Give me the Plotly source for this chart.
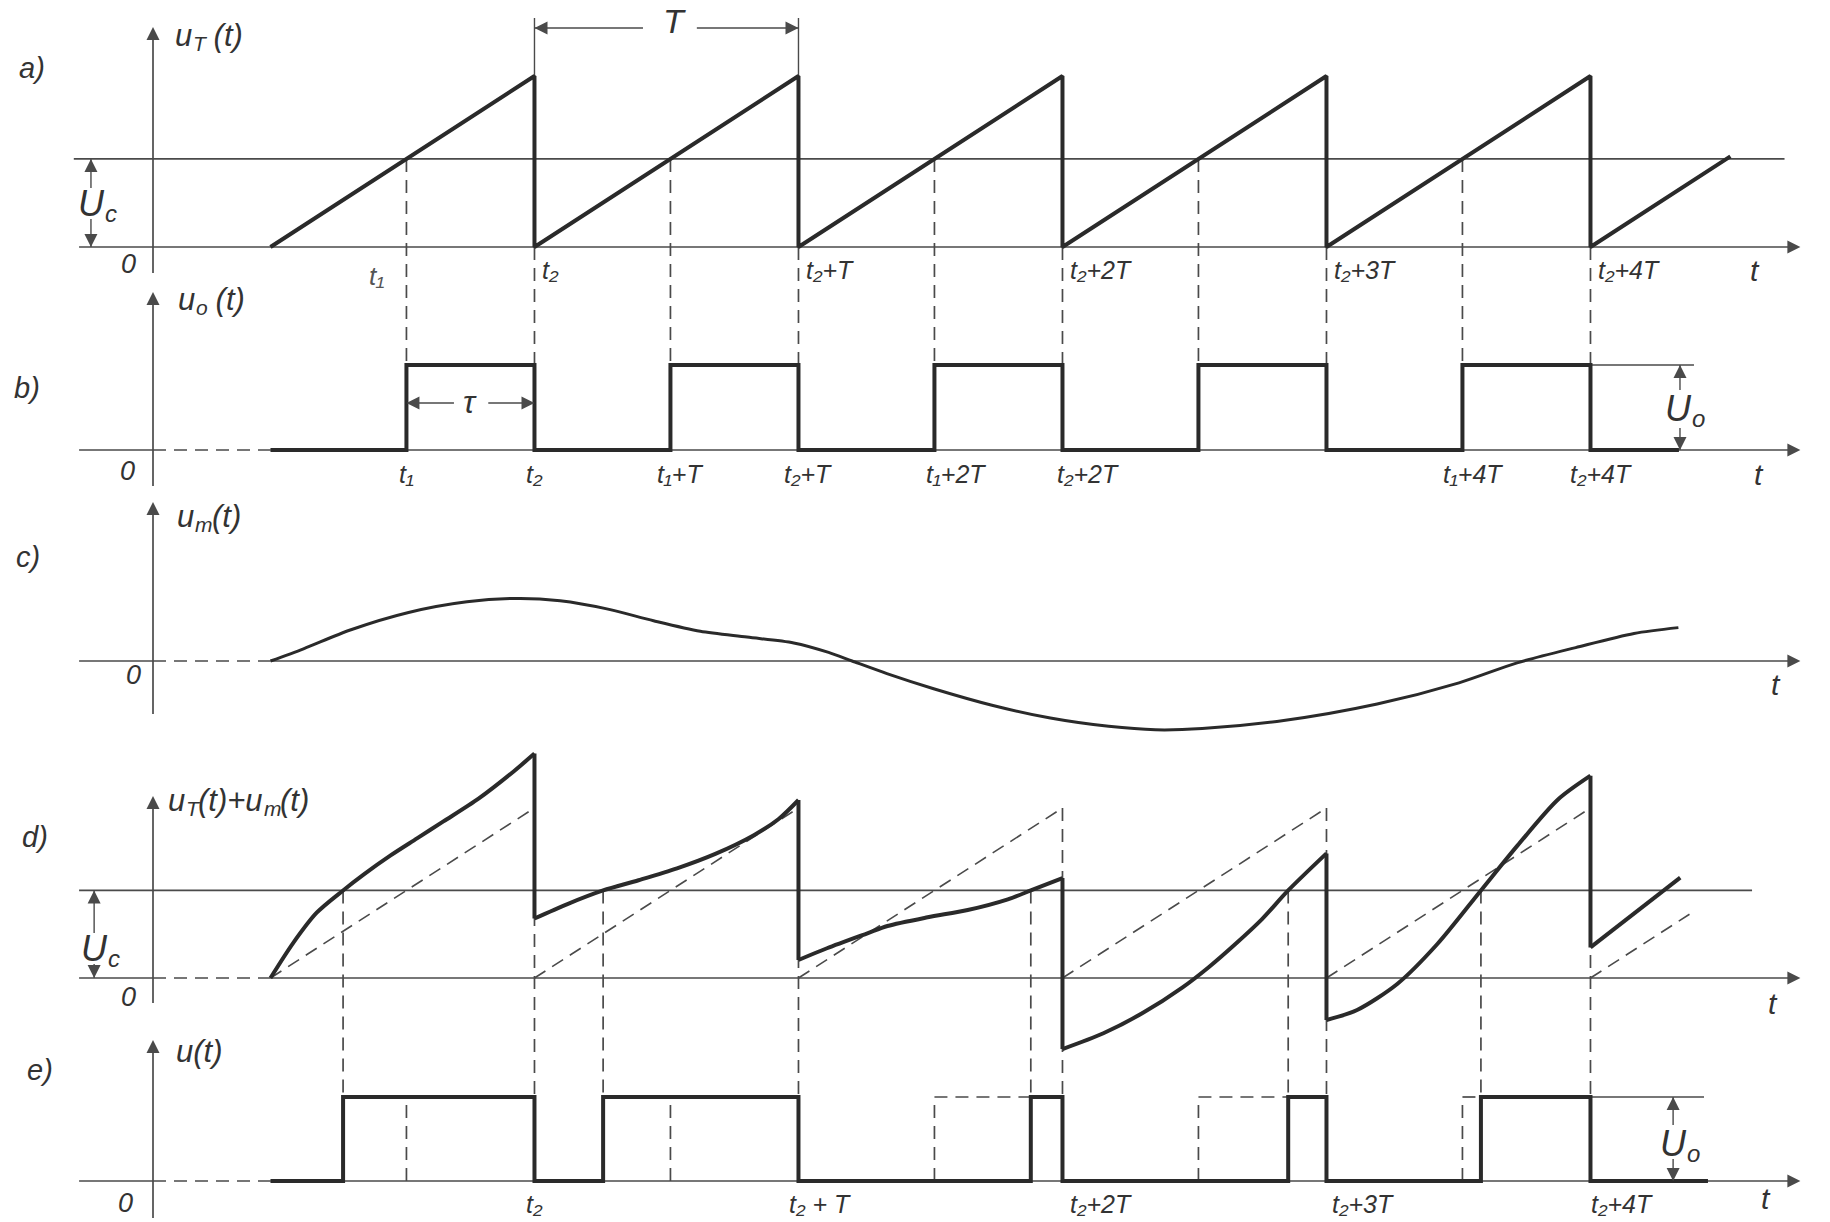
import plotly.graph_objects as go

# ---------------- data (time in units of the period T) ----------------
sweep_start = 0.445
t2_times = [1.445, 2.445, 3.445, 4.445, 5.445]      # t2 + kT  (sawtooth resets)
t1_times = [0.96, 1.96, 2.96, 3.96, 4.96]           # t1 + kT  (u_T crosses Uc)
Uc = 0.515
Uo = 1.0

# a) sawtooth u_T(t)
saw_t = [0.445, 1.445, 1.445, 2.445, 2.445, 3.445, 3.445, 4.445, 4.445, 5.445, 5.445, 5.975]
saw_v = [0.0, 1.0, 0.0, 1.0, 0.0, 1.0, 0.0, 1.0, 0.0, 1.0, 0.0, 0.53]

# b) pulse train u_o(t)
b_on = [0.96, 1.96, 2.96, 3.96, 4.96]
b_off = [1.445, 2.445, 3.445, 4.445, 5.445]
b_end = 5.78

# c) modulating signal u_m(t)
um_t = [0.445, 0.57, 0.747, 0.968, 1.189, 1.388, 1.542, 1.719, 1.896, 2.073, 2.25, 2.427,
        2.559, 2.648, 2.78, 2.957, 3.178, 3.399, 3.62, 3.797, 3.974, 4.283, 4.637, 4.947,
        5.167, 5.389, 5.61, 5.778]
um_v = [0.0, 0.071, 0.18, 0.282, 0.344, 0.364, 0.35, 0.303, 0.234, 0.173, 0.139, 0.105,
        0.05, 0.0, -0.073, -0.161, -0.257, -0.332, -0.38, -0.4, -0.393, -0.346, -0.25, -0.127,
        -0.011, 0.078, 0.16, 0.194]

# d) u_T(t)+u_m(t), one list per sweep
sum_t = [
    [0.445, 0.53, 0.62, 0.72, 0.80, 0.90, 1.0, 1.1, 1.233, 1.366, 1.445],
    [1.445, 1.57, 1.705, 1.839, 1.985, 2.13, 2.276, 2.37, 2.445],
    [2.445, 2.553, 2.706, 2.782, 2.934, 3.086, 3.238, 3.325, 3.445],
    [3.445, 3.6, 3.75, 3.9, 4.0, 4.1, 4.2, 4.30, 4.445],
    [4.445, 4.561, 4.713, 4.865, 5.03, 5.169, 5.322, 5.445],
    [5.445, 5.785],
]
sum_v = [
    [0.0, 0.204, 0.384, 0.515, 0.611, 0.721, 0.821, 0.921, 1.055, 1.215, 1.32],
    [0.35, 0.435, 0.515, 0.575, 0.645, 0.73, 0.84, 0.935, 1.047],
    [0.106, 0.175, 0.263, 0.306, 0.357, 0.4, 0.463, 0.515, 0.588],
    [-0.418, -0.325, -0.205, -0.055, 0.065, 0.2, 0.345, 0.515, 0.733],
    [-0.247, -0.188, -0.035, 0.2, 0.515, 0.78, 1.05, 1.19],
    [0.18, 0.59],
]
# dashed reference sawtooth in d)
ref_t = [[0.445, 1.445], [1.445, 2.445], [2.445, 3.445], [3.445, 4.445], [4.445, 5.445], [5.445, 5.82]]
ref_v = [[0.0, 1.0], [0.0, 1.0], [0.0, 1.0], [0.0, 1.0], [0.0, 1.0], [0.0, 0.375]]

# e) modulated pulse train u(t)
e_on = [0.72, 1.705, 3.325, 4.30, 5.03]
e_off = [1.445, 2.445, 3.445, 4.445, 5.445]
e_end = 5.89

# tick labels
a_labels = ["t₂", "t₂+T", "t₂+2T", "t₂+3T", "t₂+4T"]
b_labels_on = ["t₁", "t₁+T", "t₁+2T", None, "t₁+4T"]
b_labels_off = ["t₂", "t₂+T", "t₂+2T", None, "t₂+4T"]
e_labels = ["t₂", "t₂ + T", "t₂+2T", "t₂+3T", "t₂+4T"]

# axis titles as (text, subscript) pieces
title_a = [("u", ""), ("T", "sub"), (" (t)", "")]
title_b = [("u", ""), ("o", "sub"), (" (t)", "")]
title_c = [("u", ""), ("m", "sub"), ("(t)", "")]
title_d = [("u", ""), ("T", "sub"), ("(t)+u", ""), ("m", "sub"), ("(t)", "")]
title_e = [("u(t)", "")]
label_Uc = [("U", ""), ("c", "sub")]
label_Uo = [("U", ""), ("o", "sub")]

# ---------------- layout of the drawing ----------------
W, H = 1830, 1222
X0PX, TPX = 153.0, 264.0
XMIN, XMAX = -X0PX / TPX, (W - X0PX) / TPX
PANEL = {'a': (247, 171), 'b': (450, 85), 'c': (661, 172), 'd': (978, 170), 'e': (1181, 84)}
AX_TOP = {'a': 27, 'b': 292, 'c': 502, 'd': 796, 'e': 1040}
AX_BOT = {'a': 273, 'b': 486, 'c': 714, 'd': 1003, 'e': 1218}
LEFT, TIP = -0.28, 6.24

INK = "#2a2a2a"
THIN = "#4a4a4a"
DASH = "13px,8px"
FONT = "Liberation Sans, DejaVu Sans"
# Arial / Liberation Sans advance widths (em)
ADV = {'u': 0.556, 'T': 0.611, '(': 0.333, 't': 0.278, ')': 0.333, '+': 0.584,
       'm': 0.833, 'U': 0.722, 'c': 0.5, 'o': 0.556, ' ': 0.278}


def Y(p, v):
    base, scale = PANEL[p]
    return base - v * scale


def px2t(px):
    return (px - X0PX) / TPX


fig = go.Figure()


def line(xs, ys, width=1.7, dash=None, color=THIN, shape="linear"):
    fig.add_trace(go.Scatter(x=xs, y=ys, mode="lines",
                             line=dict(color=color, width=width, dash=dash, shape=shape,
                                       smoothing=0.8 if shape == "spline" else None),
                             hoverinfo="skip", showlegend=False))


annos = []
heads_x, heads_y, heads_s = [], [], []


def text(x, y, s, size=24, xanchor="center", color="#333333"):
    annos.append(dict(x=x, y=y, xref="x", yref="y", text=s, showarrow=False,
                      xanchor=xanchor, yanchor="middle",
                      font=dict(family=FONT, size=size, color=color, style="italic")))


def rich(x_px, y, pieces, size, anchor="left"):
    sub_size = round(size * 0.68)
    widths = [sum(ADV[ch] for ch in s) * (sub_size if kind else size) for s, kind in pieces]
    x = x_px - (sum(widths) / 2 if anchor == "center" else 0)
    for (s, kind), w in zip(pieces, widths):
        if kind:
            text(px2t(x + 1), y + size * 0.28, s, sub_size, xanchor="left")
        else:
            text(px2t(x), y, s, size, xanchor="left")
        x += w


def head(x, y, direction):
    heads_x.append(x)
    heads_y.append(y)
    heads_s.append("arrow-" + direction)


def steps(start, ons, offs, end):
    xs, ys = [start], [0.0]
    for on, off in zip(ons, offs):
        xs += [on, on, off, off]
        ys += [0.0, Uo, Uo, 0.0]
    xs.append(end)
    ys.append(0.0)
    return xs, ys


# ---- axes (thin) ----
for p in "abcde":
    yb = Y(p, 0)
    line([0, 0], [AX_BOT[p], AX_TOP[p] + 4])
    head(0, AX_TOP[p], "up")
    if p == "a":
        line([LEFT, TIP - 0.02], [yb, yb])
    else:
        line([LEFT, 0], [yb, yb])
        line([0, sweep_start], [yb, yb], dash=DASH)
        line([sweep_start, TIP - 0.02], [yb, yb])
    head(TIP, yb, "right")

# comparator level Uc
line([-0.30, 6.18], [Y('a', Uc)] * 2)
line([LEFT, 6.057], [Y('d', Uc)] * 2)

# ---- dashed connectors a -> b ----
for t1 in t1_times:
    line([t1, t1], [Y('a', Uc), Y('b', Uo)], dash=DASH)
for t2 in t2_times:
    line([t2, t2], [Y('a', 0), Y('b', Uo)], dash=DASH)
# extension lines for the period T
for t2 in t2_times[:2]:
    line([t2, t2], [18, Y('a', 1.0)], width=1.4)

# ---- dashed connectors d -> e ----
for tc in e_on:
    line([tc, tc], [Y('d', Uc), Y('e', Uo)], dash=DASH)
for t2 in t2_times:
    line([t2, t2], [Y('d', 1.0), Y('e', Uo)], dash=DASH)
# reference sawtooth in d
for xs, vs in zip(ref_t, ref_v):
    line(xs, [Y('d', v) for v in vs], width=1.6, dash=DASH)
# unmodulated pulses shown dashed in e
for t1, tc in zip(t1_times, e_on):
    line([t1, t1], [Y('e', 0), Y('e', Uo)], dash=DASH)
    if tc > t1:
        line([t1, tc], [Y('e', Uo)] * 2, dash=DASH)

# Uo extension lines
line([b_off[-1], 5.837], [Y('b', Uo)] * 2, width=1.4)
line([e_off[-1], 5.875], [Y('e', Uo)] * 2, width=1.4)

# ---- dimension lines ----
line([t2_times[0], 1.856], [28, 28], width=1.4)
line([2.06, t2_times[1]], [28, 28], width=1.4)
head(t2_times[0], 28, "left")
head(t2_times[1], 28, "right")

line([b_on[0], 1.14], [403, 403], width=1.4)
line([1.27, b_off[0]], [403, 403], width=1.4)
head(b_on[0], 403, "left")
head(b_off[0], 403, "right")

for p, x, ytop, ybot in [('a', -0.235, 188, 219), ('d', -0.223, 933, 964)]:
    line([x, x], [Y(p, Uc), ytop], width=1.4)
    line([x, x], [ybot, Y(p, 0)], width=1.4)
    head(x, Y(p, Uc), "up")
    head(x, Y(p, 0), "down")
for p, x, ytop, ybot in [('b', 5.784, 390, 428), ('e', 5.758, 1125, 1159)]:
    line([x, x], [Y(p, Uo), ytop], width=1.4)
    line([x, x], [ybot, Y(p, 0)], width=1.4)
    head(x, Y(p, Uo), "up")
    head(x, Y(p, 0), "down")

# ---- signals (thick) ----
line(saw_t, [Y('a', v) for v in saw_v], width=4, color=INK)
bx, by = steps(sweep_start, b_on, b_off, b_end)
line(bx, [Y('b', v) for v in by], width=4, color=INK)
line(um_t, [Y('c', v) for v in um_v], width=3, color=INK, shape="spline")
for k, (xs, vs) in enumerate(zip(sum_t, sum_v)):
    line(xs, [Y('d', v) for v in vs], width=4, color=INK, shape="spline")
    if k + 1 < len(sum_t):
        line([xs[-1], sum_t[k + 1][0]], [Y('d', vs[-1]), Y('d', sum_v[k + 1][0])], width=4, color=INK)
ex, ey = steps(sweep_start, e_on, e_off, e_end)
line(ex, [Y('e', v) for v in ey], width=4, color=INK)

# arrow heads
fig.add_trace(go.Scatter(x=heads_x, y=heads_y, mode="markers", hoverinfo="skip", showlegend=False,
                         marker=dict(symbol=heads_s, size=13, color=THIN, line=dict(width=0))))

# ---- texts ----
text(1.977, 21, "T", size=34)
text(1.2, 402, "τ", size=32)
rich(95, 203, label_Uc, 36, anchor="center")
rich(98, 948, label_Uc, 36, anchor="center")
rich(1683, 408, label_Uo, 36, anchor="center")
rich(1678, 1143, label_Uo, 36, anchor="center")

for p, (x, y) in {'a': (-0.458, 68), 'b': (-0.477, 388), 'c': (-0.473, 557),
                  'd': (-0.447, 837), 'e': (-0.428, 1070)}.items():
    text(x, y, "%s)" % p, size=29)

rich(173, 35, title_a, 31)
rich(176, 299, title_b, 31)
rich(175, 516, title_c, 31)
rich(166, 800, title_d, 31)
rich(174, 1051, title_e, 31)

for p, (x, y) in {'a': (-0.091, 264), 'b': (-0.095, 471), 'c': (-0.072, 675),
                  'd': (-0.091, 997), 'e': (-0.106, 1203)}.items():
    text(x, y, "0", size=27)

for p, (x, y) in {'a': (6.068, 270), 'b': (6.083, 474), 'c': (6.148, 684),
                  'd': (6.136, 1003), 'e': (6.11, 1198)}.items():
    text(x, y, "t", size=30)

text(0.845, 276, "t₁", size=26, color="#555555")
for t2, s in zip(t2_times, a_labels):
    text(t2 + 0.02, 270, s, size=25, xanchor="left")

b_shift = [0.0, 0.035, 0.08, 0.0, 0.04]
for k in range(5):
    if b_labels_on[k]:
        text(b_on[k] + b_shift[k], 474, b_labels_on[k], size=25)
    if b_labels_off[k]:
        text(b_off[k] + b_shift[k] + (0.015 if k == 2 else 0.0), 474, b_labels_off[k], size=25)

e_shift = [0.0, 0.083, 0.145, 0.14, 0.12]
for t2, s, d in zip(e_off, e_labels, e_shift):
    text(t2 + d, 1204, s, size=25)

fig.update_layout(
    width=W, height=H, margin=dict(l=0, r=0, t=0, b=0),
    paper_bgcolor="white", plot_bgcolor="white",
    xaxis=dict(range=[XMIN, XMAX], visible=False, fixedrange=True),
    yaxis=dict(range=[H, 0], visible=False, fixedrange=True),
    annotations=annos, showlegend=False,
)

fig.write_html("out.html", config={"displayModeBar": False},
               post_script="document.body.style.margin='0';document.body.style.overflow='hidden';")
